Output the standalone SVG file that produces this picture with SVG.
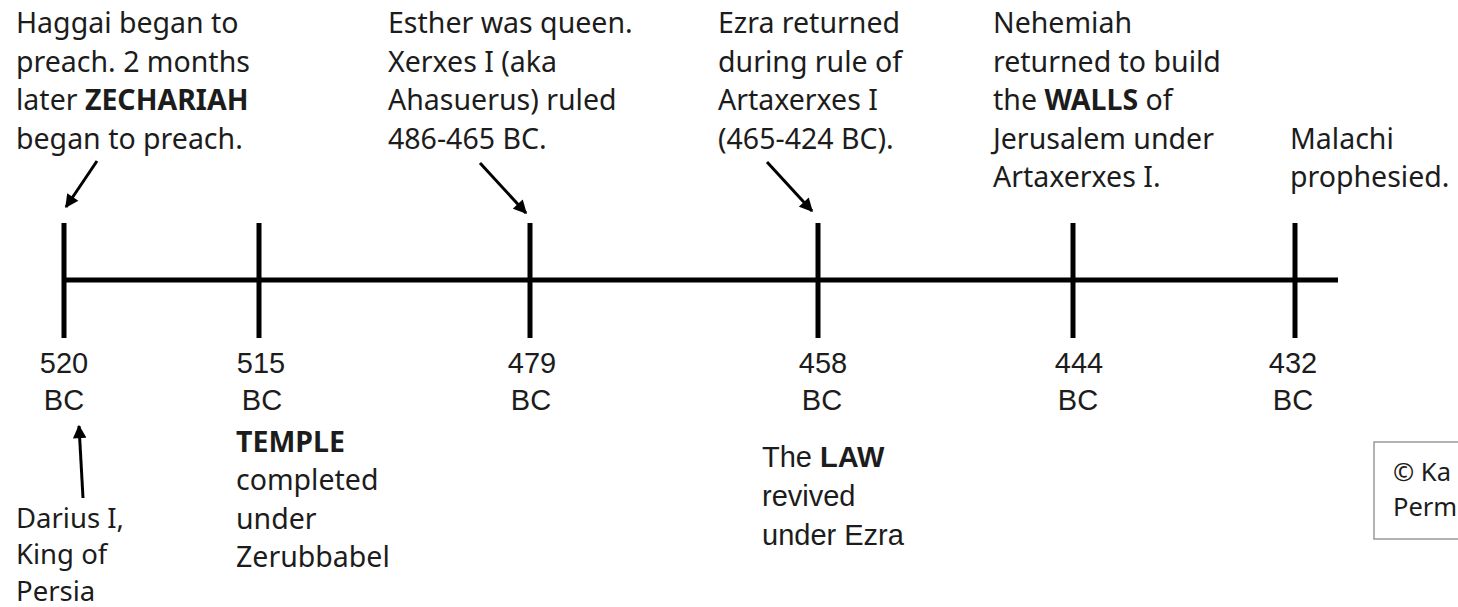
<svg xmlns="http://www.w3.org/2000/svg" width="1458" height="607" viewBox="0 0 1458 607">
<defs>
<style>
text{font-family:"Noto Sans","Open Sans","Liberation Sans",sans-serif;font-size:28.5px;fill:#1c1c1c}
text.h{font-family:"Liberation Sans",Arial,sans-serif;font-size:29px}
text.c{font-size:25.5px}
text.d{font-size:27.5px}
.b{font-weight:bold}
.line{stroke:#000;stroke-width:5;fill:none}
.arr{stroke:#000;stroke-width:3;fill:none;marker-end:url(#ah)}
</style>
<marker id="ah" viewBox="0 0 10 10" refX="9" refY="5" markerWidth="5" markerHeight="4.5" orient="auto" markerUnits="strokeWidth">
<path d="M0,0 L10,5 L0,10 z" fill="#000"/>
</marker>
</defs>
<rect width="1458" height="607" fill="#fff"/>
<g id="timeline">
<line class="line" x1="64" y1="280" x2="1338" y2="280"/>
</g>
<g id="t520"><line class="line" x1="64" y1="223" x2="64" y2="338"/><text class="h" x="64" y="373" text-anchor="middle">520</text><text class="h" x="64" y="410" text-anchor="middle">BC</text></g>
<g id="t515"><line class="line" x1="259" y1="223" x2="259" y2="338"/><text class="h" x="261" y="373" text-anchor="middle">515</text><text class="h" x="262" y="410" text-anchor="middle">BC</text></g>
<g id="t479"><line class="line" x1="530" y1="223" x2="530" y2="338"/><text class="h" x="532" y="373" text-anchor="middle">479</text><text class="h" x="531" y="410" text-anchor="middle">BC</text></g>
<g id="t458"><line class="line" x1="818" y1="223" x2="818" y2="338"/><text class="h" x="823" y="373" text-anchor="middle">458</text><text class="h" x="822" y="410" text-anchor="middle">BC</text></g>
<g id="t444"><line class="line" x1="1073" y1="223" x2="1073" y2="338"/><text class="h" x="1079" y="373" text-anchor="middle">444</text><text class="h" x="1078" y="410" text-anchor="middle">BC</text></g>
<g id="t432"><line class="line" x1="1295" y1="223" x2="1295" y2="338"/><text class="h" x="1293" y="373" text-anchor="middle">432</text><text class="h" x="1293" y="410" text-anchor="middle">BC</text></g>
<g id="haggai"><text x="16" y="33">Haggai began to</text><text x="16" y="71.5">preach. 2 months</text><text x="16" y="110">later <tspan class="b">ZECHARIAH</tspan></text><text x="16" y="148.5">began to preach.</text></g>
<g id="esther"><text x="388" y="33">Esther was queen.</text><text x="388" y="71.5">Xerxes I (aka</text><text x="388" y="110">Ahasuerus) ruled</text><text x="388" y="148.5">486-465 BC.</text></g>
<g id="ezra"><text x="718" y="33">Ezra returned</text><text x="718" y="71.5">during rule of</text><text x="718" y="110">Artaxerxes I</text><text x="718" y="148.5">(465-424 BC).</text></g>
<g id="nehemiah"><text x="993" y="33">Nehemiah</text><text x="993" y="71.5">returned to build</text><text x="993" y="110">the <tspan class="b">WALLS</tspan> of</text><text x="993" y="148.5">Jerusalem under</text><text x="993" y="187">Artaxerxes I.</text></g>
<g id="malachi"><text x="1290" y="148.5">Malachi</text><text x="1290" y="187">prophesied.</text></g>
<g id="temple"><text x="236" y="452" class="b">TEMPLE</text><text x="236" y="490">completed</text><text x="236" y="528.5">under</text><text x="236" y="566.5">Zerubbabel</text></g>
<g id="law"><text class="h" x="762" y="467">The <tspan class="b">LAW</tspan></text><text class="h" x="762" y="506">revived</text><text class="h" x="762" y="545">under Ezra</text></g>
<g id="darius"><text class="d" x="16" y="527.5">Darius I,</text><text class="d" x="16" y="564">King of</text><text class="d" x="16" y="600.5">Persia</text></g>
<g id="copyright"><rect x="1374" y="442" width="90" height="97" fill="none" stroke="#999" stroke-width="1.5"/><text class="c" x="1393" y="481">© Ka</text><text class="c" x="1393" y="516">Perm</text></g>
<g id="connectors">
<line class="arr" x1="97" y1="161" x2="66" y2="207"/>
<line class="arr" x1="480" y1="163" x2="526" y2="213"/>
<line class="arr" x1="767" y1="162" x2="812" y2="211"/>
<line class="arr" x1="83" y1="498" x2="79" y2="426"/>
</g>
</svg>
